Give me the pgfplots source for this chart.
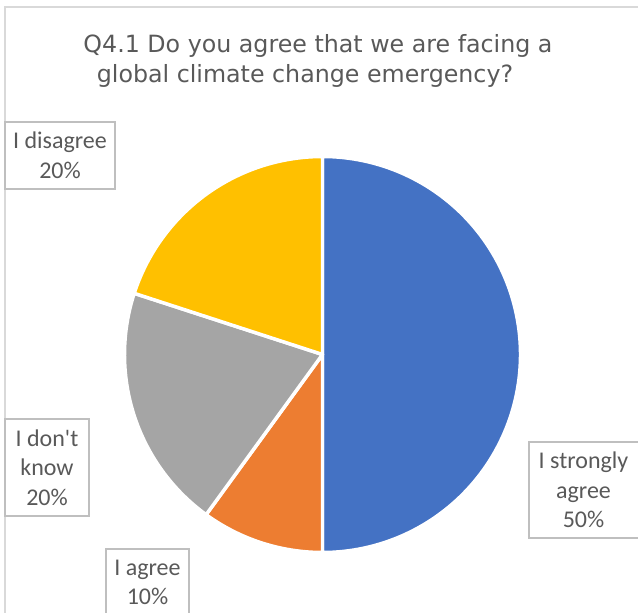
\documentclass[border=0pt]{standalone}
\usepackage{pgfplots}
\pgfplotsset{compat=1.18}
\usepackage{fontspec}
\setmainfont{Carlito}
\newfontfamily\titlefont{DejaVu Sans}
\definecolor{cblue}{HTML}{4472C4}
\definecolor{corange}{HTML}{ED7D31}
\definecolor{cgray}{HTML}{A5A5A5}
\definecolor{cyellow}{HTML}{FFC000}
\definecolor{ctext}{HTML}{595959}
\definecolor{cbox}{HTML}{BFBFBF}
\definecolor{cborder}{HTML}{D9D9D9}
\begin{document}
\begin{tikzpicture}
% shares in percent
\def\pStrong{50}
\def\pAgree{10}
\def\pDK{20}
\def\pDis{20}
\pgfmathsetmacro{\R}{198}
\pgfmathsetmacro{\aA}{90}
\pgfmathsetmacro{\aB}{\aA-3.6*\pStrong}
\pgfmathsetmacro{\aC}{\aB-3.6*\pAgree}
\pgfmathsetmacro{\aD}{\aC-3.6*\pDK}
\pgfmathsetmacro{\aE}{\aD-3.6*\pDis}
\begin{axis}[scale only axis, width=478.5pt, height=459.75pt,
  xmin=-322.5, xmax=315.5, ymin=-258.5, ymax=354.5,
  hide axis, clip=false]
\coordinate (BL) at (rel axis cs:0,0);
\coordinate (TR) at (rel axis cs:1,1);
\draw[cborder, line width=1.2pt] (axis cs:-317.5,-260) -- (axis cs:-317.5,347.5) -- (axis cs:316,347.5);
\addplot[fill=cblue, draw=white, line width=2.6pt, line join=round, domain=\aB:\aA, samples=120, variable=\t]
  ({\R*cos(\t)},{\R*sin(\t)}) -- (axis cs:0,0) -- cycle;
\addplot[fill=corange, draw=white, line width=2.6pt, line join=round, domain=\aC:\aB, samples=40, variable=\t]
  ({\R*cos(\t)},{\R*sin(\t)}) -- (axis cs:0,0) -- cycle;
\addplot[fill=cgray, draw=white, line width=2.6pt, line join=round, domain=\aD:\aC, samples=60, variable=\t]
  ({\R*cos(\t)},{\R*sin(\t)}) -- (axis cs:0,0) -- cycle;
\addplot[fill=cyellow, draw=white, line width=2.6pt, line join=round, domain=\aE:\aD, samples=60, variable=\t]
  ({\R*cos(\t)},{\R*sin(\t)}) -- (axis cs:0,0) -- cycle;
% title
\node[font=\titlefont\fontsize{17.8}{20}\selectfont, text=ctext, anchor=base] at (axis cs:-4.5,301.5) {Q4.1 Do you agree that we are facing a};
\node[font=\titlefont\fontsize{17.8}{20}\selectfont, text=ctext, anchor=base] at (axis cs:-17.5,271.5) {global climate change emergency?};
% label boxes
\draw[cbox, line width=1.1pt] (axis cs:-317.5,232.5) rectangle (axis cs:-207.5,165.5);
\node[font=\fontsize{18}{22.1}\selectfont, text=ctext, align=center] at (axis cs:-262.5,199) {I disagree\\20\%};
\draw[cbox, line width=1.1pt] (axis cs:-317.5,-64.5) rectangle (axis cs:-233.5,-161.5);
\node[font=\fontsize{18}{22.1}\selectfont, text=ctext, align=center] at (axis cs:-275.5,-113) {I don\textquotesingle t\\know\\20\%};
\draw[cbox, line width=1.1pt] (axis cs:-216.5,-194.5) rectangle (axis cs:-133.5,-261.5);
\node[font=\fontsize{18}{22.1}\selectfont, text=ctext, align=center] at (axis cs:-175,-228) {I agree\\10\%};
\draw[cbox, line width=1.1pt] (axis cs:206.5,-87.5) rectangle (axis cs:316,-183.5);
\node[font=\fontsize{18}{22.1}\selectfont, text=ctext, align=center] at (axis cs:261,-135.5) {I strongly\\agree\\50\%};
\end{axis}
\pgfresetboundingbox
\useasboundingbox (BL) rectangle (TR);
\end{tikzpicture}
\end{document}
